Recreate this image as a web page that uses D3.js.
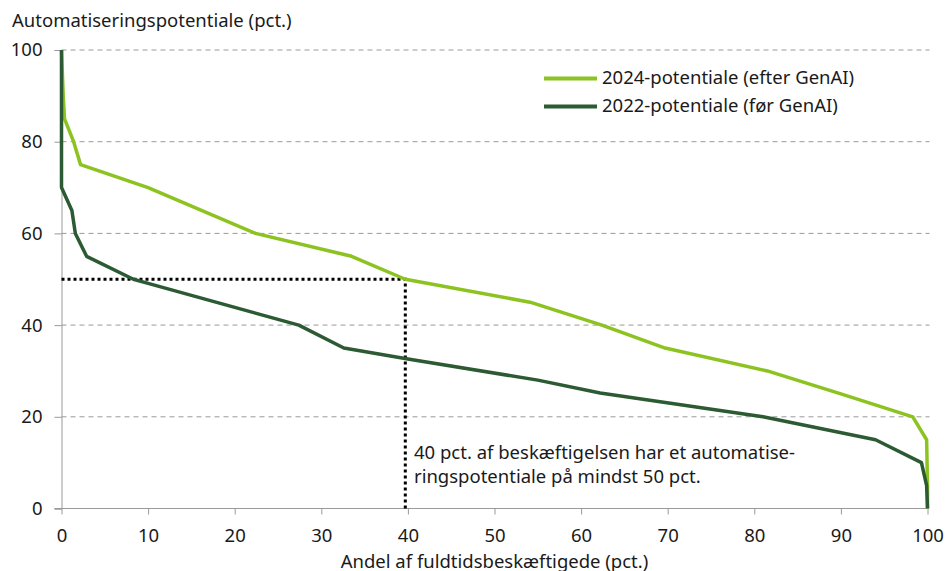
<!DOCTYPE html>
<html><head><meta charset="utf-8">
<script src="https://cdn.jsdelivr.net/npm/d3@7"></script>
<style>body{margin:0;background:#fff;}svg{display:block;font-family:"Noto Sans",sans-serif;}</style>
</head><body><svg id="c" width="946" height="571"></svg>
<script>
const xTicks = [0,10,20,30,40,50,60,70,80,90,100];
const yTicks = [0,20,40,60,80,100];
const series2024 = [[0,100],[0.2,90],[0.35,85],[1.4,80],[2.2,75],[10,70],[22.4,60],[33.5,55],[39.7,50],[54.1,45],[62.4,40],[69.7,35],[81.5,30],[90,25],[98.3,20],[99.9,15],[100,5],[100,0]];
const series2022 = [[0,100],[0,70],[1.2,65],[1.6,60],[2.9,55],[8.3,50],[10,49.1],[27.4,40],[32.6,35],[40,32.6],[55,28],[62.2,25.2],[81,20],[94,15],[99.3,10],[99.9,5],[100,0]];
const seriesNames = ["2024-potentiale (efter GenAI)","2022-potentiale (før GenAI)"];
const refPoint = [39.7,50];
const yTitle = "Automatiseringspotentiale (pct.)";
const xTitle = "Andel af fuldtidsbeskæftigede (pct.)";
const noteLines = ["40 pct. af beskæftigelsen har et automatise-","ringspotentiale på mindst 50 pct."];

const FS = 18.5;
const FONT = "Noto Sans";
const TXT = "#1a1a1a";
const svg = d3.select("#c");
const x = d3.scaleLinear().domain([0,100]).range([61.5,927.5]);
const y = d3.scaleLinear().domain([0,100]).range([508.5,50]);
const grey = "#9a9a9a";
const c24 = "#8cc320", c22 = "#2b5a33";

// gridlines
svg.append("g").selectAll("line").data(yTicks.filter(d=>d>0)).join("line")
  .attr("x1",x(0)).attr("x2",x(100)+2).attr("y1",d=>y(d)).attr("y2",d=>y(d))
  .attr("stroke",grey).attr("stroke-width",1).attr("stroke-dasharray","5,4");

// y axis
const ya = svg.append("g").attr("transform",`translate(${x(0)},0)`)
  .call(d3.axisLeft(y).tickValues(yTicks).tickSize(7).tickPadding(12));
ya.select(".domain").attr("stroke",grey);
ya.selectAll(".tick line").attr("stroke",grey);
ya.selectAll("text").attr("font-size",FS).attr("fill",TXT).attr("font-family",FONT);

// x axis
const xa = svg.append("g").attr("transform",`translate(0,${y(0)})`)
  .call(d3.axisBottom(x).tickValues(xTicks).tickSize(6).tickPadding(14));
xa.select(".domain").attr("stroke",grey).attr("d",`M${x(0)-7},0H${x(100)}`);
xa.selectAll(".tick line").attr("stroke",grey);
xa.selectAll("text").attr("font-size",FS).attr("fill",TXT).attr("font-family",FONT);

// reference dotted lines
svg.append("path")
  .attr("d",`M${x(0)},${y(refPoint[1])}H${x(refPoint[0])}V${y(0)}`)
  .attr("fill","none").attr("stroke","#000").attr("stroke-width",3).attr("stroke-dasharray","3,3");

const line = d3.line().x(d=>x(d[0])).y(d=>y(d[1]));
svg.append("path").datum(series2024).attr("d",line).attr("fill","none").attr("stroke",c24).attr("stroke-width",3.5).attr("stroke-linejoin","round");
svg.append("path").datum(series2022).attr("d",line).attr("fill","none").attr("stroke",c22).attr("stroke-width",3.5).attr("stroke-linejoin","round");

// legend
const leg = svg.append("g");
[[c24,seriesNames[0],78.5,84],[c22,seriesNames[1],106.5,111.5]].forEach(([col,name,yy,ty])=>{
  leg.append("line").attr("x1",544).attr("x2",597).attr("y1",yy).attr("y2",yy).attr("stroke",col).attr("stroke-width",4);
  leg.append("text").attr("x",602).attr("y",ty).attr("font-size",FS).attr("fill",TXT).text(name);
});

// note
noteLines.forEach((t,i)=>svg.append("text").attr("x",414).attr("y",458.5+i*24.7).attr("font-size",FS).attr("fill",TXT).text(t));

// titles
svg.append("text").attr("x",12).attr("y",27).attr("font-size",FS).attr("fill",TXT).text(yTitle);
svg.append("text").attr("x",(x(0)+x(100))/2).attr("y",568).attr("text-anchor","middle").attr("font-size",FS).attr("fill",TXT).text(xTitle);
</script></body></html>
